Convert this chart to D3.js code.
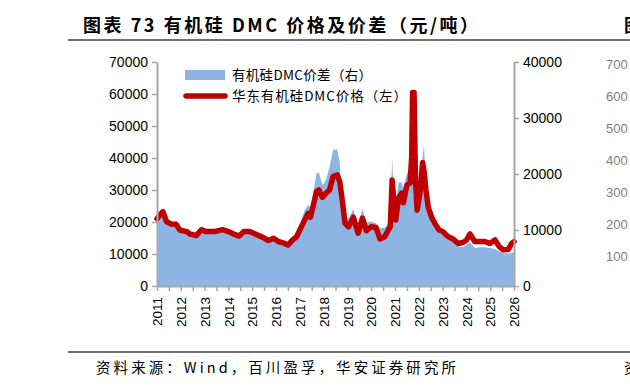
<!DOCTYPE html>
<html>
<head>
<meta charset="utf-8">
<script src="https://cdn.jsdelivr.net/npm/d3@7"></script>
<style>
  body { margin: 0; background: #fff; }
  svg { display: block; }
  .cn { font-family: "Noto Sans CJK SC", sans-serif; }
  .num { font-family: "Liberation Sans", Arial, sans-serif; }
</style>
</head>
<body>
<div class="graph"></div>
<script>
// dates as decimal years
const years = [
  2011.00, 2011.15, 2011.25, 2011.40, 2011.60, 2011.80, 2011.96,
  2012.25, 2012.40, 2012.65, 2012.86,
  2013.07, 2013.42, 2013.75,
  2014.00, 2014.20, 2014.45, 2014.65, 2014.90,
  2015.20, 2015.45, 2015.68, 2015.90,
  2016.10, 2016.30, 2016.50, 2016.70, 2016.87,
  2017.00, 2017.20, 2017.35, 2017.45, 2017.57, 2017.70, 2017.80, 2017.95,
  2018.10, 2018.25, 2018.40, 2018.57, 2018.68, 2018.80, 2018.90,
  2019.05, 2019.25, 2019.45, 2019.63, 2019.80,
  2020.00, 2020.20, 2020.37, 2020.57, 2020.72, 2020.80, 2020.88, 2020.95,
  2021.03, 2021.15, 2021.28, 2021.35, 2021.50, 2021.63, 2021.70, 2021.74, 2021.80, 2021.86, 2021.93,
  2022.05, 2022.16, 2022.22, 2022.30, 2022.40, 2022.54, 2022.68, 2022.85,
  2023.00, 2023.20, 2023.45, 2023.65, 2023.85,
  2024.00, 2024.15, 2024.35, 2024.56, 2024.77, 2024.98,
  2025.20, 2025.38, 2025.55, 2025.76, 2025.90, 2026.00
];
// 华东有机硅DMC价格 (left axis)
const price = [
  21000, 22500, 23200, 20100, 19400, 19300, 17500,
  17000, 16200, 15800, 17600,
  17000, 17000, 17600,
  17000, 16300, 15600, 17000, 17000,
  16000, 15200, 14200, 14900,
  13900, 13500, 12800, 14400, 15400,
  17500, 20500, 22700, 21500, 25300, 29500, 30000, 27700,
  29000, 30000, 34200, 34700, 32600, 25800, 19600,
  18500, 21500, 16500, 21200, 17300,
  18500, 18300, 14700, 15400, 17500, 18500, 33100, 26500,
  20600, 27500, 29000, 26000, 31500, 32100, 40000, 60500, 60500, 33000, 23700,
  29000, 38600, 36000, 30000, 24500, 21500, 19500, 17500,
  17000, 15600, 14600, 13300, 13600,
  14300, 16300, 13900, 13900, 13900, 13300,
  14400, 12300, 11300, 11400, 13300, 13900
];
// 有机硅DMC价差 (right axis)
const spread = [
  12200, 13600, 13400, 11500, 11000, 11000, 10000,
  9700, 9200, 9000, 10000,
  9700, 9700, 10000,
  9700, 9300, 8900, 9700, 9700,
  9100, 8700, 8100, 8500,
  7900, 7700, 7300, 8300, 9000,
  11000, 13500, 14500, 14000, 16800, 20100, 20300, 18000,
  18900, 21300, 24300, 24400, 22000, 14000, 12300,
  12000, 13700, 10700, 13800, 11300,
  11500, 11200, 10300, 10400, 11200, 12000, 22800, 16000,
  14400, 18500, 18500, 17500, 20100, 20800, 21000, 22000, 21500, 19500, 17000,
  18300, 23000, 25200, 17500, 14200, 11800, 10300, 9400,
  9100, 8700, 7800, 7000, 6900,
  7300, 7800, 6800, 6900, 6900, 6800,
  6600, 6200, 5900, 5800, 5900, 6000
];
const leftTicks = [0, 10000, 20000, 30000, 40000, 50000, 60000, 70000];
const rightTicks = [0, 10000, 20000, 30000, 40000];
const yearTicks = d3.range(2011, 2026.01, 0.5);
const neighbourLabels = ['700', '600', '500', '400', '300', '200', '100'];

const w = 630;
const h = 392;
const plot = { left: 157, right: 514, top: 62, bottom: 286 };

const svg = d3.select('.graph')
  .append('svg')
  .attr('width', w)
  .attr('height', h);

const xScale = d3.scaleLinear()
  .domain([2011, 2026])
  .range([plot.left, plot.right]);
const yLeft = d3.scaleLinear()
  .domain([0, 70000])
  .range([plot.bottom, plot.top]);
const yRight = d3.scaleLinear()
  .domain([0, 40000])
  .range([plot.bottom, plot.top]);

const rows = years.map((y, i) => ({ year: y, price: price[i], spread: spread[i] }));

// spread area
svg.append('path')
  .datum(rows)
  .attr('fill', '#8db4e2')
  .attr('d', d3.area()
    .x((d) => xScale(d.year))
    .y0(plot.bottom)
    .y1((d) => yRight(d.spread)));

// price line
svg.append('path')
  .datum(rows)
  .attr('fill', 'none')
  .attr('stroke', '#c00000')
  .attr('stroke-width', 5.5)
  .attr('stroke-linejoin', 'round')
  .attr('stroke-linecap', 'round')
  .attr('d', d3.line()
    .x((d) => xScale(d.year))
    .y((d) => yLeft(d.price)));

function styleAxis(g) {
  g.select('.domain').attr('stroke', '#a6a6a6').attr('stroke-width', 2);
  g.selectAll('.tick line').attr('stroke', '#a6a6a6').attr('stroke-width', 1.5);
  g.selectAll('.tick text')
    .attr('class', 'num')
    .attr('fill', '#000')
    .style('font-size', '14px');
}

svg.append('g')
  .attr('transform', `translate(${plot.left}, 0)`)
  .call(d3.axisLeft(yLeft).tickValues(leftTicks).tickSize(5).tickSizeOuter(0).tickPadding(4)
    .tickFormat(d3.format('d')))
  .call(styleAxis);

svg.append('g')
  .attr('transform', `translate(${plot.right}, 0)`)
  .call(d3.axisRight(yRight).tickValues(rightTicks).tickSize(5).tickSizeOuter(0).tickPadding(4)
    .tickFormat(d3.format('d')))
  .call(styleAxis);

const xAxis = svg.append('g')
  .attr('transform', `translate(0, ${plot.bottom})`)
  .call(d3.axisBottom(xScale).tickValues(yearTicks).tickSize(5).tickSizeOuter(0)
    .tickFormat((d) => Number.isInteger(d) ? d : ''))
  .call(styleAxis);

xAxis.selectAll('.tick text')
  .style('font-size', '13.5px')
  .attr('text-anchor', 'end')
  .attr('transform', 'rotate(-90)')
  .attr('x', -11)
  .attr('y', 0)
  .attr('dy', '0.35em');

// legend
const legendItems = [
  { label: '有机硅DMC价差（右）', width: 140 },
  { label: '华东有机硅DMC价格（左）', width: 175 }
];
const legend = svg.append('g').attr('class', 'legend');
legend.append('rect')
  .attr('x', 185).attr('y', 70)
  .attr('width', 40).attr('height', 10)
  .attr('fill', '#8db4e2');
legend.append('line')
  .attr('x1', 186).attr('x2', 225)
  .attr('y1', 96).attr('y2', 96)
  .attr('stroke', '#c00000')
  .attr('stroke-width', 5.5)
  .attr('stroke-linecap', 'round');
legend.selectAll('text')
  .data(legendItems)
  .enter()
  .append('text')
  .attr('class', 'cn')
  .attr('x', 232)
  .attr('y', (d, i) => 75 + i * 21)
  .attr('dy', '0.35em')
  .attr('textLength', (d) => d.width)
  .attr('lengthAdjust', 'spacing')
  .style('font-size', '13.5px')
  .text((d) => d.label);

// title and frame lines
svg.append('text')
  .attr('class', 'cn')
  .attr('x', 83)
  .attr('y', 32)
  .attr('textLength', 395)
  .attr('lengthAdjust', 'spacing')
  .style('font-size', '18px')
  .style('font-weight', 'bold')
  .text('图表 73 有机硅 DMC 价格及价差（元/吨）');

svg.append('line')
  .attr('x1', 68).attr('x2', w)
  .attr('y1', 40).attr('y2', 40)
  .attr('stroke', '#404040').attr('stroke-width', 1.5);

svg.append('line')
  .attr('x1', 68).attr('x2', w)
  .attr('y1', 352).attr('y2', 352)
  .attr('stroke', '#404040').attr('stroke-width', 1.5);

svg.append('text')
  .attr('class', 'cn')
  .attr('x', 96)
  .attr('y', 368)
  .attr('dy', '0.35em')
  .attr('textLength', 360)
  .attr('lengthAdjust', 'spacing')
  .style('font-size', '14.5px')
  .text('资料来源：Wind，百川盈孚，华安证券研究所');

// cut-off neighbour chart at the right edge
svg.append('text')
  .attr('class', 'cn')
  .attr('x', 624).attr('y', 32)
  .style('font-size', '18px')
  .style('font-weight', 'bold')
  .text('图');
svg.append('text')
  .attr('class', 'cn')
  .attr('x', 624).attr('y', 368)
  .attr('dy', '0.35em')
  .style('font-size', '14px')
  .text('资');
svg.selectAll('.nb')
  .data(neighbourLabels)
  .enter()
  .append('text')
  .attr('class', 'nb num')
  .attr('x', 606)
  .attr('y', (d, i) => 64 + i * 32)
  .attr('dy', '0.35em')
  .attr('fill', '#7f7f7f')
  .style('font-size', '13px')
  .text((d) => d);
</script>
</body>
</html>
